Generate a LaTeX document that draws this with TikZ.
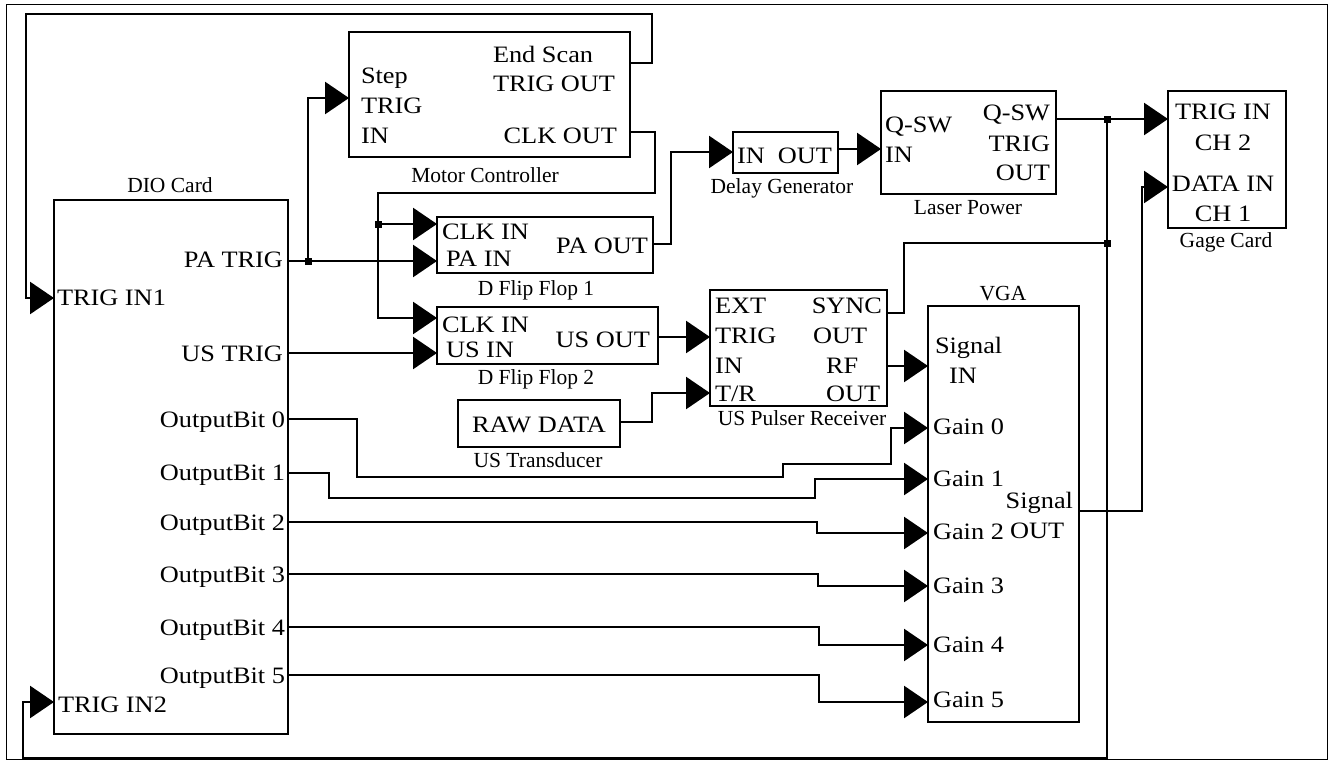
\documentclass[tikz,border=0pt]{standalone}
\usepackage{fontspec}
\usetikzlibrary{arrows.meta}
\newfontfamily\mainf[FakeStretch=1.12]{Liberation Serif}
\newfontfamily\capf{Liberation Serif}
\tikzset{
  box/.style={draw, line width=2.6pt, inner sep=0pt, outer sep=0pt},
  lbl/.style={inner sep=0pt, outer sep=0pt, font={\mainf\fontsize{23.5}{30}\selectfont}},
  capt/.style={inner sep=0pt, outer sep=0pt, anchor=base, font={\capf\fontsize{21.5}{26}\selectfont}},
  wire/.style={line width=2.6pt, line join=miter},
  arr/.style={wire, -{Triangle[length=24pt,width=32pt]}},
  jdot/.style={fill, minimum size=7pt, inner sep=0pt, outer sep=0pt, rectangle}
}
\begin{document}
\begin{tikzpicture}[x=1pt,y=-1pt]
\fill[white] (0,0) rectangle (1328,760);
\useasboundingbox (0,0) rectangle (1328,760);
\draw[line width=1pt] (6,5) rectangle (1327,759);

% boxes
\node[box, minimum width=281pt, minimum height=125pt] (motor) at (489.5,94.5) {};
\node[box, minimum width=234pt, minimum height=534pt] (dio) at (171,467) {};
\node[box, minimum width=216pt, minimum height=56pt] (dff1) at (545,245) {};
\node[box, minimum width=221pt, minimum height=57pt] (dff2) at (547.5,335.5) {};
\node[box, minimum width=162pt, minimum height=47pt] (raw) at (539,423.5) {};
\node[box, minimum width=105pt, minimum height=41pt] (delay) at (785.5,152.5) {};
\node[box, minimum width=175pt, minimum height=103pt] (laser) at (968.5,142.5) {};
\node[box, minimum width=177pt, minimum height=116pt] (pulser) at (798.5,348) {};
\node[box, minimum width=151pt, minimum height=416pt] (vga) at (1003.5,514) {};
\node[box, minimum width=118pt, minimum height=137pt] (gage) at (1227,159.5) {};

% captions
\node[capt] (cmotor) at (485,182) {Motor Controller};
\node[capt] (cdio) at (170,192) {DIO Card};
\node[capt] (cdff1) at (536,295) {D Flip Flop 1};
\node[capt] (cdff2) at (536,384) {D Flip Flop 2};
\node[capt] (craw) at (538,467) {US Transducer};
\node[capt] (cdelay) at (782,193) {Delay Generator};
\node[capt] (claser) at (968,214) {Laser Power};
\node[capt] (cpulser) at (802,425) {US Pulser Receiver};
\node[capt] (cvga) at (1003,300) {VGA};
\node[capt] (cgage) at (1226,247) {Gage Card};

% motor labels
\node[lbl, anchor=base west] (m1) at (361,84) {Step};
\node[lbl, anchor=base west] (m2) at (361,113) {TRIG};
\node[lbl, anchor=base west] (m3) at (361,143) {IN};
\node[lbl, anchor=base west] (m4) at (493,63) {End Scan};
\node[lbl, anchor=base west] (m5) at (493,92) {TRIG OUT};
\node[lbl, anchor=base east] (m6) at (617,143) {CLK OUT};

% dio labels
\node[lbl, anchor=base east] (d1) at (283,267) {PA TRIG};
\node[lbl, anchor=base west] (d2) at (57,305) {TRIG IN1};
\node[lbl, anchor=base east] (d3) at (283,361) {US TRIG};
\node[lbl, anchor=base east] (d4) at (285,427) {OutputBit 0};
\node[lbl, anchor=base east] (d5) at (285,480) {OutputBit 1};
\node[lbl, anchor=base east] (d6) at (285,530) {OutputBit 2};
\node[lbl, anchor=base east] (d7) at (285,582) {OutputBit 3};
\node[lbl, anchor=base east] (d8) at (285,635) {OutputBit 4};
\node[lbl, anchor=base east] (d9) at (285,683) {OutputBit 5};
\node[lbl, anchor=base west] (d10) at (58,712) {TRIG IN2};

% dff labels
\node[lbl, anchor=base west] (f1) at (442,239) {CLK IN};
\node[lbl, anchor=base west] (f2) at (446,266) {PA IN};
\node[lbl, anchor=base east] (f3) at (648,253) {PA OUT};
\node[lbl, anchor=base west] (f4) at (442,332) {CLK IN};
\node[lbl, anchor=base west] (f5) at (446,357) {US IN};
\node[lbl, anchor=base east] (f6) at (650,347) {US OUT};
\node[lbl, anchor=base] (r1) at (539,432) {RAW DATA};

% delay, laser, gage
\node[lbl, anchor=base west] (g1) at (737,163) {IN\ \ OUT};
\node[lbl, anchor=base west] (q1) at (885,132) {Q-SW};
\node[lbl, anchor=base west] (q2) at (885,162) {IN};
\node[lbl, anchor=base east] (q3) at (1050,120) {Q-SW};
\node[lbl, anchor=base east] (q4) at (1050,151) {TRIG};
\node[lbl, anchor=base east] (q5) at (1050,180) {OUT};
\node[lbl, anchor=base] (k1) at (1223,119) {TRIG IN};
\node[lbl, anchor=base] (k2) at (1223,150) {CH 2};
\node[lbl, anchor=base] (k3) at (1223,191) {DATA IN};
\node[lbl, anchor=base] (k4) at (1223,221) {CH 1};

% pulser labels
\node[lbl, anchor=base west] (p1) at (715,313) {EXT};
\node[lbl, anchor=base west] (p2) at (715,343) {TRIG};
\node[lbl, anchor=base west] (p3) at (715,373) {IN};
\node[lbl, anchor=base west] (p4) at (715,401) {T/R};
\node[lbl, anchor=base east] (p5) at (882,313) {SYNC};
\node[lbl, anchor=base west] (p6) at (813,343) {OUT};
\node[lbl, anchor=base west] (p7) at (826,373) {RF};
\node[lbl, anchor=base west] (p8) at (826,401) {OUT};

% vga labels
\node[lbl, anchor=base west] (v1) at (935,353) {Signal};
\node[lbl, anchor=base west] (v2) at (949,383) {IN};
\node[lbl, anchor=base west] (v3) at (933,434) {Gain 0};
\node[lbl, anchor=base west] (v4) at (933,486) {Gain 1};
\node[lbl, anchor=base west] (v5) at (933,539) {Gain 2};
\node[lbl, anchor=base west] (v6) at (933,593) {Gain 3};
\node[lbl, anchor=base west] (v7) at (933,652) {Gain 4};
\node[lbl, anchor=base west] (v8) at (933,707) {Gain 5};
\node[lbl, anchor=base east] (v9) at (1073,508) {Signal};
\node[lbl, anchor=base west] (v10) at (1010,538) {OUT};

% ports
\coordinate (mStep) at (349,98);
\coordinate (mEnd) at (630,63);
\coordinate (mClk) at (630,132);
\coordinate (dPA) at (288,261);
\coordinate (dIn1) at (54,298);
\coordinate (dUS) at (288,353);
\coordinate (dB0) at (288,419);
\coordinate (dB1) at (288,473);
\coordinate (dB2) at (288,522);
\coordinate (dB3) at (288,574);
\coordinate (dB4) at (288,627);
\coordinate (dB5) at (288,675);
\coordinate (dIn2) at (54,702);
\coordinate (f1Clk) at (437,224);
\coordinate (f1PA) at (437,261);
\coordinate (f1Out) at (653,244);
\coordinate (f2Clk) at (437,318);
\coordinate (f2US) at (437,353);
\coordinate (f2Out) at (658,337);
\coordinate (rOut) at (620,422);
\coordinate (gIn) at (733,152);
\coordinate (gOut) at (838,149);
\coordinate (lIn) at (881,149);
\coordinate (lOut) at (1056,119);
\coordinate (pTrig) at (710,337);
\coordinate (pTR) at (710,393);
\coordinate (pSync) at (887,313);
\coordinate (pRF) at (887,366);
\coordinate (vIn) at (928,366);
\coordinate (vG0) at (928,428);
\coordinate (vG1) at (928,479);
\coordinate (vG2) at (928,533);
\coordinate (vG3) at (928,586);
\coordinate (vG4) at (928,645);
\coordinate (vG5) at (928,702);
\coordinate (vOut) at (1079,511);
\coordinate (kTrig) at (1168,119);
\coordinate (kData) at (1168,187);

% junctions
\node[jdot] (j1) at (308,261) {};
\node[jdot] (j2) at (378,224) {};
\node[jdot] (j3) at (1107,119) {};
\node[jdot] (j4) at (1107,243) {};

% wires
\draw[arr] (j1.center) |- (mStep);
\draw[arr] (dPA) -- (f1PA);
\draw[arr] (mEnd) -| (652,14) -| (26,298) -- (dIn1);
\draw[arr] (mClk) -| (655,193) -| (378,318) -- (f2Clk);
\draw[arr] (j2.center) -- (f1Clk);
\draw[arr] (dUS) -- (f2US);
\draw[arr] (f1Out) -| (671,152) -- (gIn);
\draw[arr] (gOut) -- (lIn);
\draw[arr] (f2Out) -- (pTrig);
\draw[arr] (rOut) -| (652,393) -- (pTR);
\draw[wire] (pSync) -| (904,243) -- (j4.center);
\draw[arr] (lOut) -- (kTrig);
\draw[arr] (j3.center) -- (1107,758) -| (23,702) -- (dIn2);
\draw[arr] (pRF) -- (vIn);
\draw[arr] (vOut) -| (1142,187) -- (kData);
\draw[arr] (dB0) -| (357,477) -| (783,464) -| (891,428) -- (vG0);
\draw[arr] (dB1) -| (329,498) -| (815,479) -- (vG1);
\draw[arr] (dB2) -| (817,533) -- (vG2);
\draw[arr] (dB3) -| (818,586) -- (vG3);
\draw[arr] (dB4) -| (819,645) -- (vG4);
\draw[arr] (dB5) -| (819,702) -- (vG5);
\end{tikzpicture}
\end{document}
